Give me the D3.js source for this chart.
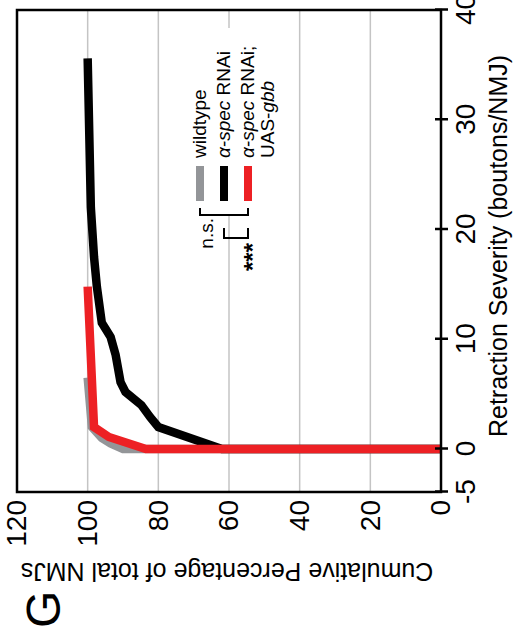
<!DOCTYPE html>
<html>
<head>
<meta charset="utf-8">
<script src="https://cdn.jsdelivr.net/npm/d3@7"></script>
<style>
  body { margin: 0; background: #fff; }
  text { font-family: "Liberation Sans", Arial, sans-serif; }
</style>
</head>
<body>
<div id="chart"></div>
<script>
// tick values
const sevTicks = [-5, 0, 10, 20, 30, 40];
const pctTicks = [0, 20, 40, 60, 80, 100, 120];
const gridTicks = [20, 40, 60, 80, 100];

// cumulative curves: retraction severity (x) vs cumulative % (y)
const wildtypeSev = [0, 0, 0.5, 1, 2, 6.5];
const wildtypePct = [0, 90, 93.5, 96, 98.8, 100];

const rnaiSev = [0, 0, 2, 2.9, 4, 5.2, 6.1, 8.6, 10.2, 11.5, 14.8, 17.5, 22, 35.6];
const rnaiPct = [0, 62, 80, 82.3, 84.8, 89.3, 90.7, 92.1, 93.5, 96, 97.4, 98.2, 99.1, 100];

const gbbSev = [0, 0, 1.1, 2, 14.8];
const gbbPct = [0, 83.5, 94, 98.2, 100];

const seriesNames = ["wildtype", "rnai", "gbb"];
const seriesColors = ["#939598", "#000000", "#ed2024"];

// whole panel is drawn upright, then turned a quarter turn
const W = 634, H = 532;
const svg = d3.select("#chart")
  .append("svg")
  .attr("width", H)
  .attr("height", W);

const g = svg.append("g")
  .attr("transform", `translate(0,${W}) rotate(-90)`);

const x = d3.scaleLinear().domain([-5, 0, 40]).range([142, 185, 624]);
const y = d3.scaleLinear().domain([0, 120]).range([441, 17]);

// grid
g.selectAll(".grid")
  .data(gridTicks)
  .join("line")
  .attr("class", "grid")
  .attr("x1", x(-5)).attr("x2", x(40))
  .attr("y1", d => y(d)).attr("y2", d => y(d))
  .attr("stroke", "#c4c4c4")
  .attr("stroke-width", 1.5);

// legend background hides the grid behind it
g.append("rect")
  .attr("x", 420).attr("y", 184)
  .attr("width", 186).attr("height", 97)
  .attr("fill", "#fff");

// curves
const line = d3.line()
  .x(d => x(d[0]))
  .y(d => y(d[1]));

const series = [
  d3.zip(wildtypeSev, wildtypePct),
  d3.zip(rnaiSev, rnaiPct),
  d3.zip(gbbSev, gbbPct)
];

g.selectAll(".curve")
  .data(series)
  .join("path")
  .attr("class", "curve")
  .attr("d", line)
  .attr("fill", "none")
  .attr("stroke", (d, i) => seriesColors[i])
  .attr("stroke-width", 8.5)
  .attr("stroke-linejoin", "miter")
  .attr("stroke-linecap", "butt");

// frame
g.append("rect")
  .attr("x", x(-5)).attr("y", y(120))
  .attr("width", x(40) - x(-5))
  .attr("height", y(0) - y(120))
  .attr("fill", "none")
  .attr("stroke", "#000")
  .attr("stroke-width", 2.5);

// severity axis
const xAxis = g.append("g")
  .attr("transform", `translate(0,${y(0)})`)
  .call(d3.axisBottom(x)
    .tickValues(sevTicks)
    .tickSize(7)
    .tickPadding(7)
    .tickFormat(d => String(d)));
xAxis.select(".domain").remove();
xAxis.selectAll(".tick line")
  .attr("y1", -6)
  .attr("stroke-width", 2.5);
xAxis.selectAll(".tick text")
  .attr("font-size", 28)
  .attr("font-family", "Liberation Sans, Arial, sans-serif")
  .attr("fill", "#000");

// percentage axis
const yAxis = g.append("g")
  .attr("transform", `translate(${x(-5)},0)`)
  .call(d3.axisLeft(y)
    .tickValues(pctTicks)
    .tickSize(0)
    .tickPadding(8));
yAxis.select(".domain").remove();
yAxis.selectAll(".tick text")
  .attr("font-size", 28)
  .attr("dy", "0.32em")
  .attr("font-family", "Liberation Sans, Arial, sans-serif")
  .attr("fill", "#000");

// axis titles
g.append("text")
  .attr("x", 388).attr("y", 507)
  .attr("text-anchor", "middle")
  .attr("font-size", 25)
  .text("Retraction Severity (boutons/NMJ)");

g.append("text")
  .attr("transform", "translate(71,227) rotate(-90)")
  .attr("text-anchor", "middle")
  .attr("font-size", 25)
  .text("Cumulative Percentage of total NMJs");

// panel letter
g.append("text")
  .attr("x", 6).attr("y", 60)
  .attr("font-size", 48)
  .text("G");

// legend
const legendY = [200, 224, 248];
g.selectAll(".swatch")
  .data(seriesNames)
  .join("line")
  .attr("class", "swatch")
  .attr("x1", 433).attr("x2", 468)
  .attr("y1", (d, i) => legendY[i]).attr("y2", (d, i) => legendY[i])
  .attr("stroke", (d, i) => seriesColors[i])
  .attr("stroke-width", 8);

const t1 = g.append("text").attr("x", 476).attr("y", legendY[0] + 5.5).attr("font-size", 19);
t1.text("wildtype");

const t2 = g.append("text").attr("x", 476).attr("y", legendY[1] + 5.5).attr("font-size", 19);
t2.append("tspan").attr("font-style", "italic").text("α-spec");
t2.append("tspan").text(" RNAi");

const t3 = g.append("text").attr("x", 476).attr("y", legendY[2] + 5.5).attr("font-size", 19);
t3.append("tspan").attr("font-style", "italic").text("α-spec");
t3.append("tspan").text(" RNAi;");

const t4 = g.append("text").attr("x", 476).attr("y", legendY[2] + 26).attr("font-size", 19);
t4.append("tspan").text("UAS-");
t4.append("tspan").attr("font-style", "italic").text("gbb");

// significance brackets
g.append("path")
  .attr("d", `M426,${legendY[0]}H419V${legendY[2]}H426`)
  .attr("fill", "none").attr("stroke", "#000").attr("stroke-width", 2);
g.append("text")
  .attr("x", 416).attr("y", 213)
  .attr("text-anchor", "end")
  .attr("font-size", 19)
  .text("n.s.");

g.append("path")
  .attr("d", `M406,${legendY[1]}H396V${legendY[2]}H406`)
  .attr("fill", "none").attr("stroke", "#000").attr("stroke-width", 2);
g.append("text")
  .attr("x", 391).attr("y", 261)
  .attr("text-anchor", "end")
  .attr("font-size", 24)
  .attr("font-weight", "bold")
  .text("***");
</script>
</body>
</html>
